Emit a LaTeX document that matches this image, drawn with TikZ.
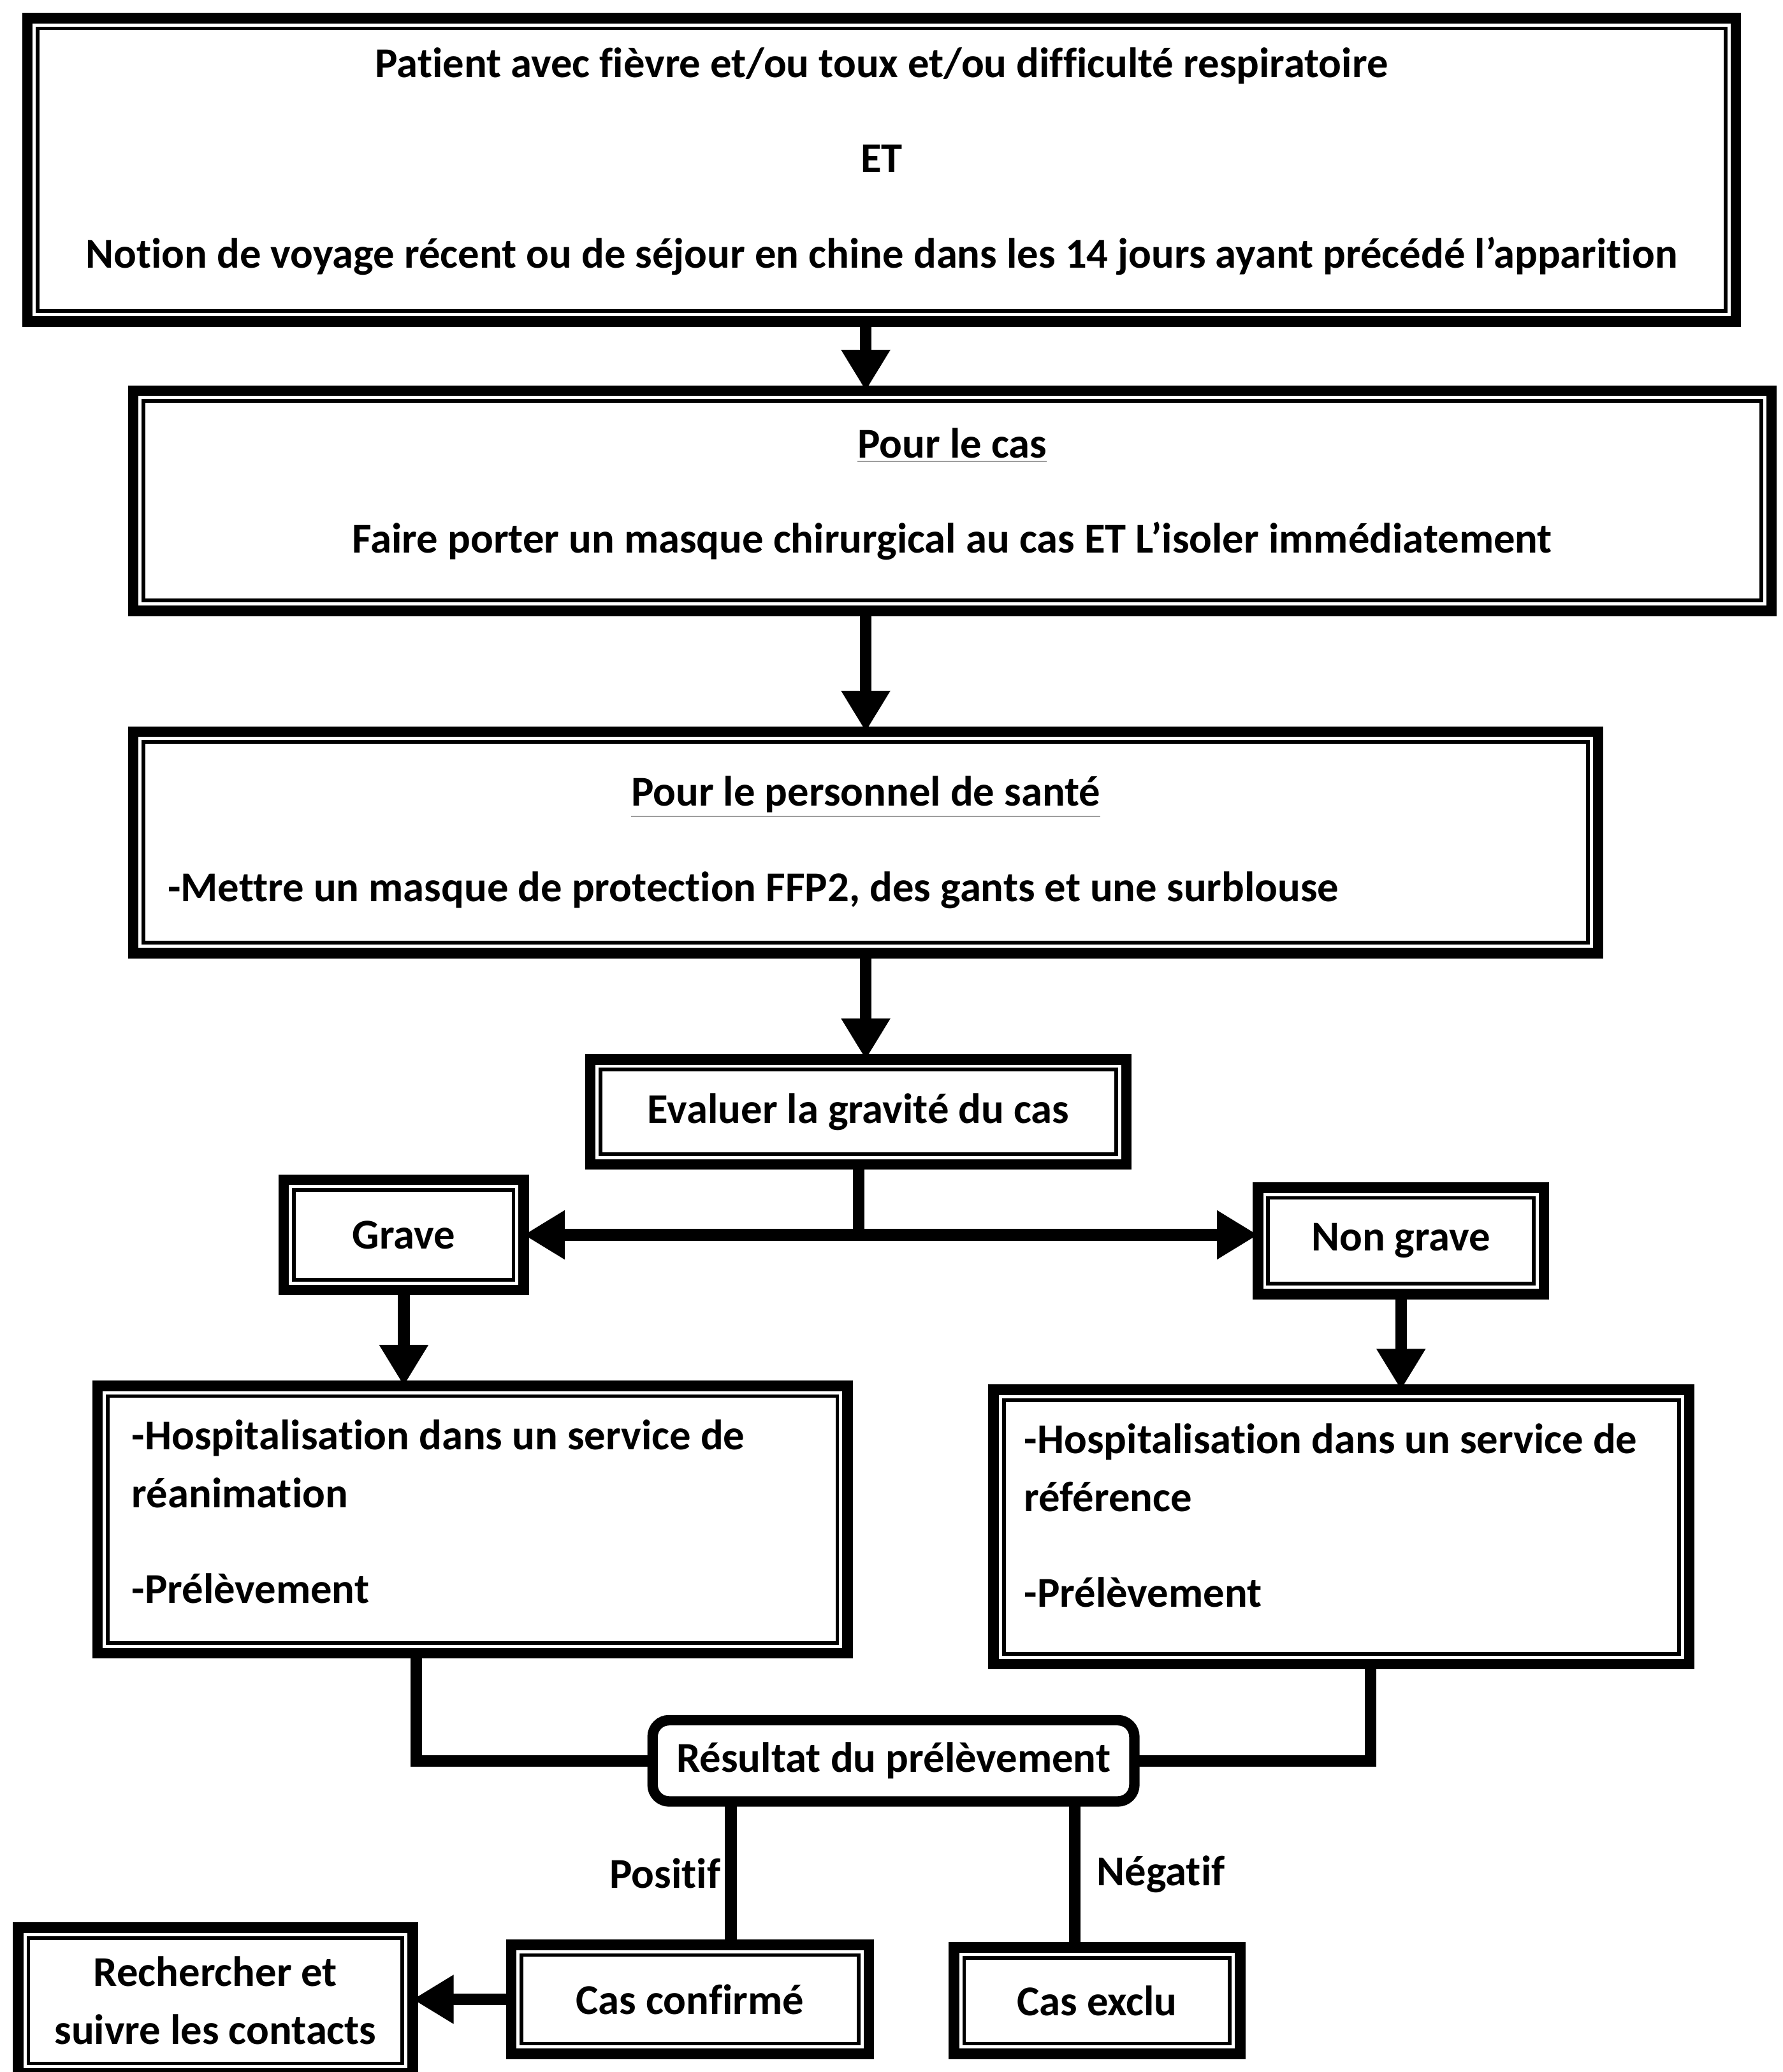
\documentclass[tikz,border=0pt]{standalone}
\usepackage{fontspec}
\setmainfont{Carlito}[Ligatures=NoCommon, Contextuals=NoAlternate]
\usetikzlibrary{arrows.meta}
\begin{document}
\begin{tikzpicture}
\tikzstyle{mybox} = [draw, line width=4.5pt, outer sep=0pt, inner sep=0pt, align=center, font=\bfseries\fontsize{18.3}{25}\selectfont]
\tikzstyle{myres} = [mybox, rounded corners=0.25cm]
\tikzstyle{myarrow} = [line width=5pt, -{Triangle[width=0.7cm,length=0.62cm]}]
\tikzstyle{myline} = [line width=5pt]
\tikzstyle{mylabel} = [font=\bfseries\fontsize{18.3}{25}\selectfont]
\useasboundingbox (0,0) rectangle (26.98,-31.36);
% boxes
\node[mybox, minimum width=25.85cm, minimum height=4.59cm] (patient) at (13.34,-2.57)
  {Patient avec fièvre et/ou toux et/ou difficulté respiratoire\\[16pt]
   ET\\[16pt]
   Notion de voyage récent ou de séjour en chine dans les 14 jours ayant précédé l’apparition\\[-14.5pt]\mbox{}};
\node[mybox, minimum width=24.79cm, minimum height=3.33cm] (cas) at (14.41,-7.58)
  {\underline{Pour le cas}\\[16pt]
   Faire porter un masque chirurgical au cas ET L’isoler immédiatement\\[-16pt]\mbox{}};
\node[mybox, minimum width=22.17cm, minimum height=3.35cm, text width=21.12cm, align=flush left] (perso) at (13.10,-12.75)
  {\makebox[\linewidth]{\underline{Pour le personnel de santé}}\\[16pt]
   -Mettre un masque de protection FFP2, des gants et une surblouse};
\node[mybox, minimum width=8.11cm, minimum height=1.59cm] (eval) at (12.99,-16.83) {Evaluer la gravité du cas};
\node[mybox, minimum width=3.63cm, minimum height=1.67cm] (grave) at (6.11,-18.69) {Grave};
\node[mybox, minimum width=4.33cm, minimum height=1.61cm] (nongrave) at (21.2,-18.78) {Non grave};
\node[mybox, minimum width=11.35cm, minimum height=4.05cm, text width=10.31cm, align=flush left] (rea) at (7.15,-23.0)
  {-Hospitalisation dans un service de\\
   réanimation\\[16pt]
   -Prélèvement\\[-18pt]\mbox{}};
\node[mybox, minimum width=10.53cm, minimum height=4.15cm, text width=9.6cm, align=flush left] (ref) at (20.3,-23.11)
  {-Hospitalisation dans un service de\\
   référence\\[16pt]
   -Prélèvement\\[-15pt]\mbox{}};
\node[myres, minimum width=7.29cm, minimum height=1.23cm] (res) at (13.52,-26.65) {Résultat du prélèvement};
\node[mybox, minimum width=5.41cm, minimum height=1.65cm] (confirme) at (10.44,-30.26) {Cas confirmé};
\node[mybox, minimum width=4.33cm, minimum height=1.61cm] (exclu) at (16.6,-30.28) {Cas exclu};
\node[mybox, minimum width=5.97cm, minimum height=2.21cm] (contacts) at (3.26,-30.28)
  {Rechercher et\\ suivre les contacts};
% inner thin frames
\foreach \n in {patient,cas,perso,eval,grave,nongrave,rea,ref,confirme,exclu,contacts}
  \draw[line width=1.6pt] ([shift={(0.155,-0.155)}]\n.north west) rectangle ([shift={(-0.155,0.155)}]\n.south east);
% arrows
\draw[myarrow] (patient.south -| perso) -- (cas.north -| perso);
\draw[myarrow] (cas.south -| perso) -- (perso.north);
\draw[myarrow] (perso.south) -- (perso.south |- eval.north);
\coordinate (split) at (eval.south |- grave.east);
\draw[myline] (eval.south) -- (split);
\draw[myarrow] (split) -- (grave.east);
\draw[myarrow] (split) -- (split -| nongrave.west);
\draw[myarrow] (grave.south) -- (grave.south |- rea.north);
\draw[myarrow] (nongrave.south) -- (nongrave.south |- ref.north);
\draw[myline] ([xshift=-0.85cm]rea.south) |- (res.west);
\draw[myline] ([xshift=0.44cm]ref.south) |- (res.east);
\draw[myline] ([xshift=-2.46cm]res.south) -- ([xshift=-2.46cm]res.south |- confirme.north)
  node[mylabel, midway, left, inner sep=2pt] (pos) {Positif};
\draw[myline] ([xshift=2.74cm]res.south) -- ([xshift=2.74cm]res.south |- exclu.north)
  node[mylabel, midway, right, inner sep=0.25cm] (neg) {Négatif};
\draw[myarrow] (confirme.west) -- (confirme.west -| contacts.east);
\end{tikzpicture}
\end{document}
